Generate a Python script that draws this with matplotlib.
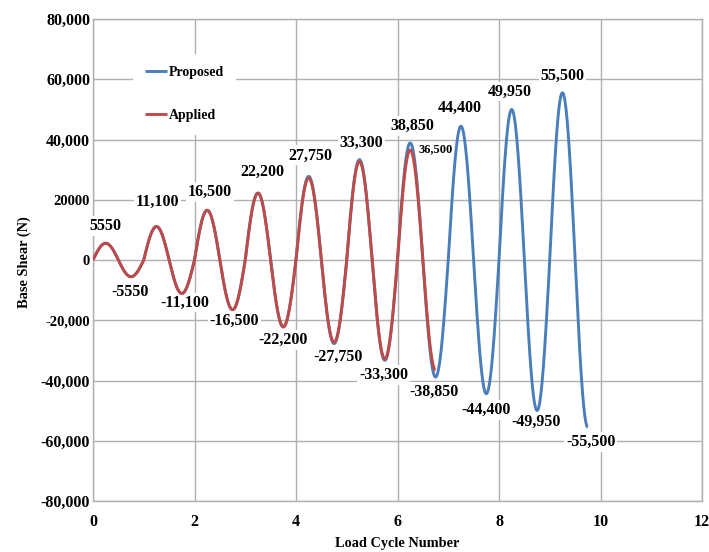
import numpy as np
import matplotlib
matplotlib.use("Agg")
import matplotlib.pyplot as plt
from matplotlib.ticker import FixedLocator

# ---------------- data ----------------
proposed_peaks = [5550, 11100, 16500, 22200, 27750, 33300, 38850, 44400, 49950, 55500]
proposed_troughs = [-5550, -11100, -16500, -22200, -27750, -33300, -38850, -44400, -49950, -55500]
proposed_end_cycle = 9.75

applied_peaks = [5550, 11100, 16500, 22200, 27200, 32700, 36500]
applied_troughs = [-5550, -11100, -16500, -22200, -27300, -32800, -36500]
applied_end_cycle = 6.75

peak_labels = ["5550", "11,100", "16,500", "22,200", "27,750", "33,300",
               "38,850", "44,400", "49,950", "55,500"]
trough_labels = ["-5550", "-11,100", "-16,500", "-22,200", "-27,750", "-33,300",
                 "-38,850", "-44,400", "-49,950", "-55,500"]
applied_extra_label = "36,500"

x_ticks = [0, 2, 4, 6, 8, 10, 12]
y_ticks = [-80000, -60000, -40000, -20000, 0, 20000, 40000, 60000, 80000]
y_tick_labels = ["-80,000", "-60,000", "-40,000", "-20,000", "0", "20000",
                 "40,000", "60,000", "80,000"]

# ---------------- layout / style ----------------
FONT = "Liberation Serif"
BLUE = "#4a7ebb"
RED = "#be4b48"
GRID = "#b0b0b0"

# label offsets in pixels (dx, dy) relative to peak / trough points
peak_offsets = [(0, 17), (1, 25), (3, 18), (4, 21), (2, 21), (2, 17),
                (2, 17), (-1, 18), (-2, 18), (0, 17)]
trough_offsets = [(-1, -15), (3, -9), (2, -11), (0, -13), (4, -13), (-1, -15),
                  (-2, -15), (0, -16), (-1, -11), (3, -15)]
extra_offset = (25, 1)


def build_curve(peaks, troughs, end_cycle, n=4000):
    amps = []
    for p, t in zip(peaks, troughs):
        amps.append(p)
        amps.append(-t)
    x = np.linspace(0, end_cycle, n)
    idx = np.minimum((2 * x).astype(int), len(amps) - 1)
    a = np.array(amps, dtype=float)[idx]
    return x, a * np.sin(2 * np.pi * x)


fig = plt.figure(figsize=(7.09, 5.52), dpi=100)
ax = fig.add_axes([93 / 709, 51 / 552, 609 / 709, 482 / 552])

xp, yp = build_curve(proposed_peaks, proposed_troughs, proposed_end_cycle)
xa, ya = build_curve(applied_peaks, applied_troughs, applied_end_cycle)
ax.plot(xp, yp, color=BLUE, lw=2.1, label="Proposed", zorder=4, solid_capstyle="butt")
ax.plot(xa, ya, color=RED, lw=2.1, label="Applied", zorder=4.1, solid_capstyle="butt")

ax.set_xlim(0, 12)
ax.set_ylim(-80000, 80000)
ax.xaxis.set_major_locator(FixedLocator(x_ticks))
ax.yaxis.set_major_locator(FixedLocator(y_ticks))
ax.set_xticklabels([str(v) for v in x_ticks])
ax.set_yticklabels(y_tick_labels)
ax.grid(True, color=GRID, lw=1.0)
ax.set_axisbelow(True)
for s in ax.spines.values():
    s.set_color(GRID)
    s.set_linewidth(1.0)
ax.tick_params(length=0)
ax.tick_params(axis="y", pad=2)
ax.tick_params(axis="x", pad=9)
for lab in ax.get_xticklabels() + ax.get_yticklabels():
    lab.set_fontfamily(FONT)
    lab.set_fontweight("bold")
    lab.set_fontsize(11.5)
for lab in ax.get_yticklabels():
    if lab.get_text() in ("20000", "0", "-20,000"):
        lab.set_fontsize(10.5)

box = dict(boxstyle="square,pad=0.12", fc="white", ec="none")
txt_kw = dict(textcoords="offset pixels", ha="center", va="center",
              fontfamily=FONT, fontweight="bold", fontsize=11.5, bbox=box, zorder=3)

for k, (v, lab) in enumerate(zip(proposed_peaks, peak_labels)):
    ax.annotate(lab, xy=(k + 0.25, v), xytext=peak_offsets[k], **txt_kw)
for k, (v, lab) in enumerate(zip(proposed_troughs, trough_labels)):
    ax.annotate(lab, xy=(k + 0.75, v), xytext=trough_offsets[k], **txt_kw)
kw2 = dict(txt_kw)
kw2["fontsize"] = 9
ax.annotate(applied_extra_label, xy=(len(applied_peaks) - 1 + 0.25, applied_peaks[-1]),
            xytext=extra_offset, **kw2)

LEG_FS = 10.0
em = LEG_FS * 100 / 72.0
leg = ax.legend(loc="upper left",
                bbox_to_anchor=((145 - 0.9 * em - 93) / 609, (501 - (73 - 0.9 * em - em / 2)) / 482),
                borderaxespad=0, borderpad=0.9, handlelength=22 / em, handletextpad=0.1,
                labelspacing=(44 - em) / em, frameon=True, fancybox=False,
                prop=dict(family=FONT, weight="bold", size=LEG_FS))
leg.get_frame().set_facecolor("white")
leg.get_frame().set_edgecolor("none")
leg.get_frame().set_alpha(1)
leg.set_zorder(6)

fig.text(24 / 709, 1 - 262 / 552, "Base Shear (N)", rotation=90, ha="center", va="center",
         fontfamily=FONT, fontweight="bold", fontsize=10.4)
fig.text(397 / 709, 1 - 543 / 552, "Load Cycle Number", ha="center", va="center",
         fontfamily=FONT, fontweight="bold", fontsize=10.3)

fig.savefig("out.png", dpi=100)
